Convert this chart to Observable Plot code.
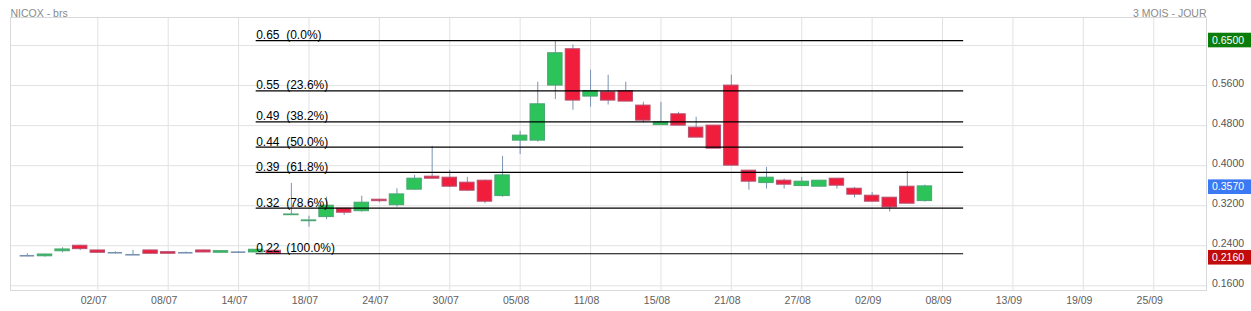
<!DOCTYPE html>
<html><head><meta charset="utf-8">
<script src="https://cdn.jsdelivr.net/npm/d3@7"></script>
<script src="https://cdn.jsdelivr.net/npm/@observablehq/plot@0.6"></script>
<style>
body{margin:0;background:#fff;}
svg{display:block;font-family:"Liberation Sans",Arial,sans-serif;}
</style>
</head><body><div id="chart"></div>
<script>
const title = "NICOX - brs";
const period = "3 MOIS - JOUR";
const dates = ["26/06","27/06","30/06","01/07","02/07","03/07","04/07","07/07","08/07","09/07","10/07","11/07","14/07","15/07","16/07","17/07","18/07","21/07","22/07","23/07","24/07","25/07","28/07","29/07","30/07","31/07","01/08","04/08","05/08","06/08","07/08","08/08","11/08","12/08","13/08","14/08","15/08","18/08","19/08","20/08","21/08","22/08","25/08","26/08","27/08","28/08","29/08","01/09","02/09","03/09","04/09","05/09"];
const open  = [0.220,0.219,0.229,0.240,0.2306,0.226,0.222,0.2306,0.2272,0.226,0.2306,0.226,0.2272,0.2266,0.230,0.301,0.289,0.2972,0.314,0.309,0.332,0.321,0.352,0.378,0.376,0.366,0.370,0.3392,0.450,0.450,0.560,0.6326,0.538,0.5466,0.549,0.520,0.481,0.5026,0.476,0.480,0.560,0.390,0.3652,0.370,0.3592,0.358,0.374,0.354,0.340,0.336,0.358,0.3292];
const high  = [0.224,0.223,0.236,0.241,0.231,0.228,0.231,0.231,0.228,0.2275,0.231,0.2306,0.2285,0.2325,0.2305,0.3646,0.299,0.337,0.3145,0.339,0.3325,0.354,0.3806,0.4386,0.3906,0.3766,0.371,0.4186,0.4686,0.5666,0.649,0.641,0.5906,0.5806,0.5666,0.5266,0.5266,0.5066,0.4966,0.480,0.5806,0.390,0.3966,0.3732,0.3766,0.370,0.374,0.3566,0.3466,0.336,0.3886,0.3612];
const low   = [0.218,0.217,0.226,0.2306,0.2255,0.224,0.222,0.2235,0.224,0.2245,0.2266,0.2255,0.2262,0.2262,0.224,0.301,0.277,0.292,0.3006,0.307,0.326,0.317,0.351,0.374,0.356,0.3486,0.324,0.337,0.422,0.447,0.532,0.5106,0.5166,0.5212,0.528,0.4852,0.481,0.480,0.456,0.434,0.400,0.351,0.3532,0.3532,0.3592,0.358,0.3532,0.3352,0.328,0.3072,0.324,0.3272];
const close = [0.220,0.2225,0.2326,0.2332,0.226,0.226,0.222,0.224,0.224,0.226,0.2266,0.2292,0.2272,0.232,0.224,0.3025,0.2906,0.320,0.306,0.326,0.329,0.3426,0.374,0.374,0.358,0.350,0.328,0.3806,0.460,0.5226,0.6246,0.530,0.549,0.530,0.528,0.490,0.4866,0.480,0.456,0.434,0.400,0.368,0.376,0.362,0.368,0.370,0.360,0.342,0.328,0.3166,0.324,0.3586];

const tickPos = [4,8,12,16,20,24,28,32,36,40,44,48,52,56,60,64];
const tickLabels = ["02/07","08/07","14/07","18/07","24/07","30/07","05/08","11/08","15/08","21/08","27/08","02/09","08/09","13/09","19/09","25/09"];
const yTicks = [0.16,0.24,0.32,0.40,0.48,0.56];
const yGrid = [0.16,0.24,0.32,0.40,0.48,0.56,0.64];

const fibValues = [0.65,0.5495,0.4873,0.437,0.3867,0.3152,0.224];
const fibLabels = ["0.65","0.55","0.49","0.44","0.39","0.32","0.22"];
const fibPct = ["0.0%","23.6%","38.2%","50.0%","61.8%","78.6%","100.0%"];
const fibFrom = 13, fibTo = 53.2;

const tagValues = [0.65, 0.357, 0.216];
const tagColors = ["#0a7d0a", "#3b78f3", "#c20b0b"];

const candles = dates.map((d, i) => ({i, date: d, open: open[i], high: high[i], low: low[i], close: close[i]}));
const fib = fibValues.map((v, k) => ({v, label: fibLabels[k], pct: fibPct[k]}));
const tags = tagValues.map((v, k) => ({v, color: tagColors[k]}));

const GREEN = "#2cc35b", RED = "#f01e3c", WICK = "#7a92b2";
const hw = 0.41;

const tagMark = (index, scales, values, dim) => {
  const g = d3.create("svg:g");
  const x0 = dim.width - dim.marginRight + 2;
  for (const t of tags) {
    const y = scales.y(t.v);
    g.append("rect").attr("x", x0).attr("y", y - 7.3).attr("width", dim.width - x0).attr("height", 14.6).attr("fill", t.color);
    g.append("text").attr("x", x0 + 4).attr("y", y).attr("dy", "0.35em").attr("text-anchor", "start")
      .attr("fill", "#fff").attr("font-size", 10.5).text(d3.format(".4f")(t.v));
  }
  return g.node();
};

const chart = Plot.plot({
  width: 1251, height: 311,
  marginLeft: 10, marginRight: 45, marginTop: 17, marginBottom: 21,
  x: {type: "linear", domain: [-0.96, 67.0], axis: null},
  y: {domain: [0.1506, 0.696], axis: null},
  marks: [
    Plot.ruleX(tickPos, {stroke: "#e2e2e2"}),
    Plot.ruleY(yGrid, {stroke: "#e2e2e2"}),
    Plot.frame({stroke: "#d9d9d9"}),
    Plot.ruleX(candles, {x: "i", y1: "low", y2: "high", stroke: WICK, strokeWidth: 1}),
    Plot.rect(candles.filter(d => d.open !== d.close), {
      x1: d => d.i - hw, x2: d => d.i + hw, y1: "open", y2: "close",
      fill: d => d.close > d.open ? GREEN : RED,
      stroke: d => d.close > d.open ? "#4aa571" : "#b5506f", strokeWidth: 1
    }),
    Plot.ruleY(candles.filter(d => d.open === d.close), {
      y: "close", x1: d => d.i - hw, x2: d => d.i + hw, stroke: WICK, strokeWidth: 1.6
    }),
    Plot.ruleY(fib, {y: "v", x1: () => fibFrom, x2: () => fibTo, stroke: "#000", strokeWidth: 1.2}),
    Plot.text(fib, {x: () => fibFrom, y: "v", text: d => `${d.label}\u00a0\u00a0(${d.pct})`,
      textAnchor: "start", lineAnchor: "bottom", dy: -1.5, fontSize: 12, fill: "#000"}),
    Plot.axisX(tickPos, {tickSize: 0, tickPadding: 6.5, tickFormat: d => tickLabels[tickPos.indexOf(d)],
      fontSize: 10.5, fill: "#5e5e5e", dx: -4, label: null}),
    Plot.axisY(yTicks, {anchor: "right", tickSize: 0, tickPadding: 5.5, tickFormat: d3.format(".4f"),
      fontSize: 10.5, fill: "#555", dy: -2, label: null}),
    Plot.text([title], {text: d => d, frameAnchor: "top-left", dy: -8, textAnchor: "start", fontSize: 10.5, fill: "#8a8a8a"}),
    Plot.text([period], {text: d => d, frameAnchor: "top-right", dy: -8, textAnchor: "end", fontSize: 10.5, fill: "#8a8a8a"}),
    tagMark
  ]
});
document.getElementById("chart").appendChild(chart);
</script>
</body></html>
